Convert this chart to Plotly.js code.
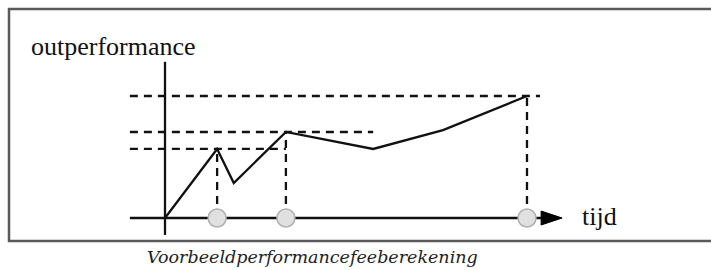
<!DOCTYPE html>
<html>
<head>
<meta charset="utf-8">
<script src="https://cdn.plot.ly/plotly-3.0.1.min.js"></script>
<style>html,body{margin:0;padding:0;background:#fff;}#chart{width:711px;height:270px;}</style>
</head>
<body>
<div id="chart"></div>
<script>
// ---- data ----
const time = [0, 1.44, 1.90, 3.34, 5.75, 7.68, 10];
const outperformance = [0, 5.66, 2.87, 7.05, 5.66, 7.21, 10];
const feeMoments = [1.44, 3.34, 10];
const feeLevels = [5.66, 7.05, 10];
const hwmLineEnds = [3.34, 5.75, 10.36];
const dropLineTops = [5.66, 7.05, 10.3];
const xLabel = 'tijd';
const yLabel = 'outperformance';
const caption = 'Voorbeeldperformancefeeberekening';

// ---- geometry (layout only) ----
const W = 711, H = 270;
const ox = 165, oy = 218, sx = 36.2, sy = 12.2;
const xr = [-ox / sx, (W - ox) / sx];
const yr = [(oy - H) / sy, oy / sy];
const axisXStart = -0.97, axisXEnd = 10.97;
const axisYBottom = -1.39, axisYTop = 12.8;
const dashStart = -0.97;

// build dashed guide traces
const hx = [], hy = [];
feeLevels.forEach((lv, i) => { hx.push(dashStart, hwmLineEnds[i], null); hy.push(lv, lv, null); });
const vx = [], vy = [];
feeMoments.forEach((t, i) => { vx.push(t, t, null); vy.push(0, dropLineTops[i], null); });

const dashStyle = '8px,6px';
const traces = [
  {x: hx, y: hy, mode: 'lines', line: {color: '#111', width: 2.3, dash: dashStyle}, hoverinfo: 'skip'},
  {x: vx, y: vy, mode: 'lines', line: {color: '#111', width: 2.3, dash: dashStyle}, hoverinfo: 'skip'},
  {x: time, y: outperformance, mode: 'lines', line: {color: '#111', width: 2.3}},
  {x: feeMoments, y: feeMoments.map(() => 0), mode: 'markers',
   marker: {size: 18, color: '#e0e0e0', line: {color: '#b0b0b0', width: 1.5}}}
];

const px = v => v / W, py = v => 1 - v / H;
const layout = {
  width: W, height: H,
  margin: {l: 0, r: 0, t: 0, b: 0},
  paper_bgcolor: '#fff', plot_bgcolor: '#fff',
  showlegend: false,
  xaxis: {range: xr, visible: false, fixedrange: true},
  yaxis: {range: yr, visible: false, fixedrange: true},
  shapes: [
    {type: 'rect', xref: 'paper', yref: 'paper', x0: px(9), x1: px(720), y0: py(241), y1: py(9),
     line: {color: '#5a5a5a', width: 2.5}, fillcolor: 'rgba(0,0,0,0)', layer: 'below'},
    {type: 'line', xref: 'x', yref: 'y', x0: axisXStart, x1: axisXEnd - 0.4, y0: 0, y1: 0,
     line: {color: '#111', width: 2.3}, layer: 'below'},
    {type: 'line', xref: 'x', yref: 'y', x0: 0, x1: 0, y0: axisYBottom, y1: axisYTop,
     line: {color: '#111', width: 2.3}, layer: 'below'},
    {type: 'path', xref: 'x', yref: 'y', xsizemode: 'pixel', ysizemode: 'pixel',
     xanchor: axisXEnd, yanchor: 0, path: 'M0,0 L-21,7 L-21,-7 Z',
     fillcolor: '#000', line: {color: '#000', width: 1}}
  ],
  annotations: [
    {text: yLabel, xref: 'paper', yref: 'paper', x: px(29), y: py(47), xanchor: 'left', yanchor: 'middle',
     showarrow: false, font: {family: 'Liberation Serif', size: 26, color: '#111'}},
    {text: xLabel, xref: 'paper', yref: 'paper', x: px(580), y: py(216), xanchor: 'left', yanchor: 'middle',
     showarrow: false, font: {family: 'Liberation Serif', size: 26, color: '#111'}},
    {text: '<i>' + caption + '</i>', xref: 'paper', yref: 'paper', x: px(312), y: py(257), xanchor: 'center', yanchor: 'middle',
     showarrow: false, font: {family: 'DejaVu Serif', size: 17.5, color: '#222'}}
  ]
};

Plotly.newPlot('chart', traces, layout, {staticPlot: true, displayModeBar: false});
</script>
</body>
</html>
